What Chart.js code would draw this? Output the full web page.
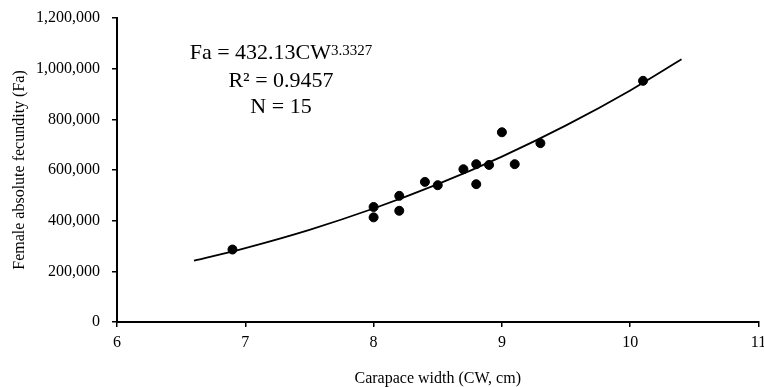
<!DOCTYPE html>
<html>
<head>
<meta charset="utf-8">
<script src="https://cdn.jsdelivr.net/npm/chart.js@4/dist/chart.umd.min.js"></script>
<style>
  body { margin: 0; background: #fff; }
  #wrap { position: relative; width: 764px; height: 387px; }
  #note {
    position: absolute; left: 181px; top: 39px; width: 200px;
    text-align: center; font-family: "Liberation Serif", serif;
    font-size: 22px; line-height: 26px; color: #000; white-space: nowrap;
  }
  #note .sup { font-size: 15px; position: relative; top: -4px; }
</style>
</head>
<body>
<div id="wrap">
  <canvas id="chart" width="764" height="387"></canvas>
  <div id="note">
    <div>Fa = 432.13CW<span class="sup">3.3327</span></div>
    <div>R² = 0.9457</div>
    <div>N = 15</div>
  </div>
</div>
<script>
// observed crabs
const cw = [6.9, 8.0, 8.0, 8.2, 8.2, 8.4, 8.5, 8.7, 8.8, 8.8, 8.9, 9.0, 9.1, 9.3, 10.1];
const fa = [286000, 454000, 413000, 498000, 439000, 553000, 540000, 603000, 623000, 544000, 620000, 749000, 623000, 706000, 952000];

// power trendline
const trendCw = [6.6, 7.0, 7.5, 8.0, 8.5, 9.0, 9.5, 10.0, 10.4];
const trendFa = [242000, 292000, 364000, 448000, 544000, 653000, 776000, 914000, 1037000];

const xTicks = [6, 7, 8, 9, 10, 11];
const yTicks = [0, 200000, 400000, 600000, 800000, 1000000, 1200000];

const serif = 'Liberation Serif';

new Chart(document.getElementById('chart').getContext('2d'), {
  type: 'scatter',
  data: {
    datasets: [
      {
        label: 'observed',
        data: cw.map((x, i) => ({x, y: fa[i]})),
        backgroundColor: '#000',
        borderColor: '#000',
        pointRadius: 4.5,
        pointHoverRadius: 4.5,
        order: 1,
      },
      {
        label: 'power fit',
        type: 'line',
        data: trendCw.map((x, i) => ({x, y: trendFa[i]})),
        borderColor: '#000',
        borderWidth: 1.8,
        pointRadius: 0,
        fill: false,
        cubicInterpolationMode: 'monotone',
        order: 2,
      }
    ]
  },
  options: {
    responsive: false,
    animation: false,
    layout: { padding: { top: 18, right: 3, bottom: 0, left: 0 } },
    plugins: { legend: { display: false }, tooltip: { enabled: false } },
    scales: {
      x: {
        type: 'linear',
        min: xTicks[0],
        max: xTicks[xTicks.length - 1],
        afterBuildTicks: s => { s.ticks = xTicks.map(v => ({value: v})); },
        afterFit: s => { s.height = 65; s.paddingRight = 0; s.paddingLeft = 0; },
        border: { display: true, color: '#000', width: 2 },
        grid: { display: true, drawOnChartArea: false, drawTicks: true, tickLength: 5, color: '#000', lineWidth: 1.5 },
        ticks: { color: '#000', padding: 6, maxRotation: 0, autoSkip: false, font: { family: serif, size: 16 } },
        title: {
          display: true, text: 'Carapace width (CW, cm)', color: '#000',
          padding: { top: 4, bottom: -1 }, font: { family: serif, size: 16 }
        }
      },
      y: {
        min: yTicks[0],
        max: yTicks[yTicks.length - 1],
        afterBuildTicks: s => { s.ticks = yTicks.map(v => ({value: v})); },
        afterFit: s => { s.width = 117; s.paddingTop = 0; s.paddingBottom = 0; },
        border: { display: true, color: '#000', width: 2 },
        grid: { display: true, drawOnChartArea: false, drawTicks: true, tickLength: 5, color: '#000', lineWidth: 1.5 },
        ticks: {
          color: '#000', padding: 12, font: { family: serif, size: 16 },
          callback: v => v.toLocaleString('en-US')
        },
        title: {
          display: true, text: 'Female absolute fecundity (Fa)', color: '#000',
          padding: { top: 10, bottom: 0 }, font: { family: serif, size: 16 }
        }
      }
    }
  }
});
</script>
</body>
</html>
